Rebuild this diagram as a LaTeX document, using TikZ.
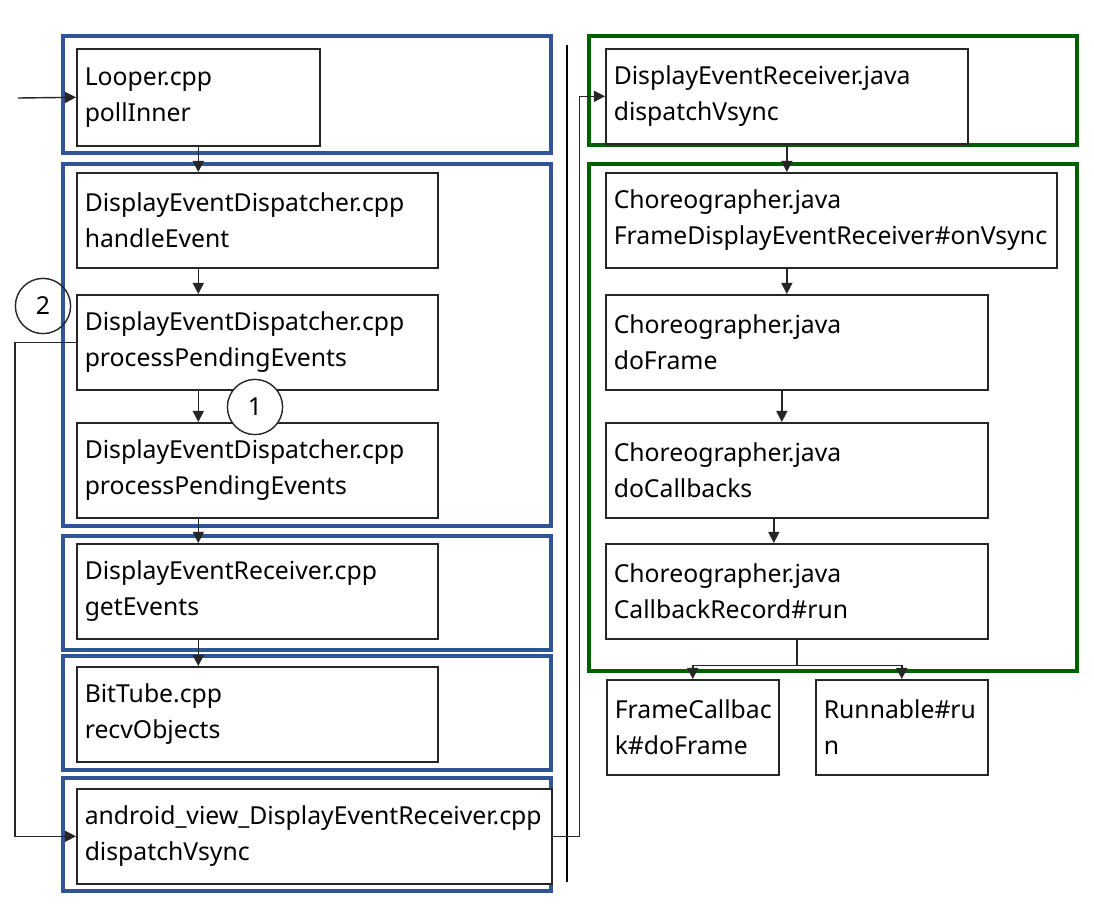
\documentclass[tikz,border=0pt]{standalone}
\usepackage{fontspec}
\setmainfont{Noto Sans}
\usetikzlibrary{arrows.meta}
\hyphenpenalty=10000
\definecolor{grpblue}{RGB}{47,85,151}
\definecolor{grpgreen}{RGB}{0,96,0}
\tikzset{
  fbox/.style={draw=black!85, line width=1.1pt, fill=white, anchor=north west, align=left,
    inner xsep=0.2cm, inner ysep=0pt, font=\fontsize{17.6}{25.6}\selectfont},
  bluegrp/.style={draw=grpblue, line width=2.4pt},
  greengrp/.style={draw=grpgreen, line width=2.4pt},
  arr/.style={-{Triangle[length=0.28cm,width=0.28cm]}, line width=1pt, black!85},
  num/.style={circle, draw=black!85, line width=1pt, minimum size=1.38cm, inner sep=0pt,
    font=\fontsize{17.6}{20}\selectfont},
}
\begin{document}
\begin{tikzpicture}[x=0.025cm, y=-0.025cm]
\useasboundingbox (0,0) rectangle (1094,904);

% groups
\draw[bluegrp] (63,36) rectangle (551,153);
\draw[bluegrp] (63,164) rectangle (551,526);
\draw[bluegrp] (63,536) rectangle (551,650);
\draw[bluegrp] (63,656) rectangle (551,770);
\draw[bluegrp] (63,778) rectangle (551,891);
\draw[greengrp] (589,36) rectangle (1077,145);
\draw[greengrp] (589,164) rectangle (1077,671);
\draw[line width=2pt] (567,45) -- (567,882); % separator

% native side
\node[fbox, text width=5.675cm, minimum height=2.425cm] (looper) at (76,48) {Looper.cpp\\pollInner};
\node[fbox, text width=8.625cm, minimum height=2.375cm] (handle) at (76,172) {DisplayEventDispatcher.cpp\\handleEvent};
\node[fbox, text width=8.625cm, minimum height=2.375cm] (ppe1) at (76,294) {DisplayEventDispatcher.cpp\\processPendingEvents};
\node[fbox, text width=8.625cm, minimum height=2.375cm] (ppe2) at (76,422) {DisplayEventDispatcher.cpp\\processPendingEvents};
\node[fbox, text width=8.625cm, minimum height=2.375cm] (getev) at (76,543) {DisplayEventReceiver.cpp\\getEvents};
\node[fbox, text width=8.625cm, minimum height=2.375cm] (tube) at (76,666) {BitTube.cpp\\recvObjects};
\node[fbox, text width=11.475cm, minimum height=2.375cm] (avd) at (76,788) {android\_view\_DisplayEventReceiver.cpp\\dispatchVsync};

% java side
\node[fbox, text width=8.65cm, minimum height=2.375cm] (derj) at (605,48) {DisplayEventReceiver.java\\dispatchVsync};
\node[fbox, text width=10.875cm, minimum height=2.375cm] (fder) at (605,172) {Choreographer.java\\FrameDisplayEventReceiver\#onVsync};
\node[fbox, text width=9.15cm, minimum height=2.375cm] (dofr) at (605,294) {Choreographer.java\\doFrame};
\node[fbox, text width=9.15cm, minimum height=2.375cm] (docb) at (605,422) {Choreographer.java\\doCallbacks};
\node[fbox, text width=9.15cm, minimum height=2.375cm] (cbrec) at (605,543) {Choreographer.java\\CallbackRecord\#run};
\node[fbox, text width=3.9cm, minimum height=2.375cm] (fcb) at (606,679) {FrameCallbac\\k\#doFrame};
\node[fbox, text width=3.9cm, minimum height=2.375cm] (run) at (815,679) {Runnable\#ru\\n};

% edges
\coordinate (entry) at (18,98);
\draw[arr] (entry) -- (looper.west);
\draw[arr] (looper.south) -- (looper.south |- handle.north);
\draw[arr] (handle.south -| looper) -- (ppe1.north -| looper);
\draw[arr] (ppe1.south -| looper) -- (ppe2.north -| looper);
\draw[arr] (ppe2.south -| looper) -- (getev.north -| looper);
\draw[arr] (getev.south -| looper) -- (tube.north -| looper);
\draw[arr] (ppe1.west) -- ++(-61,0) |- (avd.west); % loop back
\draw[arr] (avd.east) -- ++(27,0) |- (derj.west); % to java
\draw[arr] (derj.south) -- (derj.south |- fder.north);
\draw[arr] (fder.south -| derj) -- (dofr.north -| derj);
\draw[arr] ([xshift=-0.125cm]dofr.south -| derj) -- ([xshift=-0.125cm]docb.north -| derj);
\draw[arr] ([xshift=-0.325cm]docb.south -| derj) -- ([xshift=-0.325cm]cbrec.north -| derj);
\draw[arr] (cbrec.south) -- ++(0,26) -| (fcb.north);
\draw[arr] (cbrec.south) -- ++(0,26) -| (run.north);

\node[num] (n2) at (43,306) {2};
\node[num, fill=white] (n1) at (255,407) {1};
\end{tikzpicture}
\end{document}
